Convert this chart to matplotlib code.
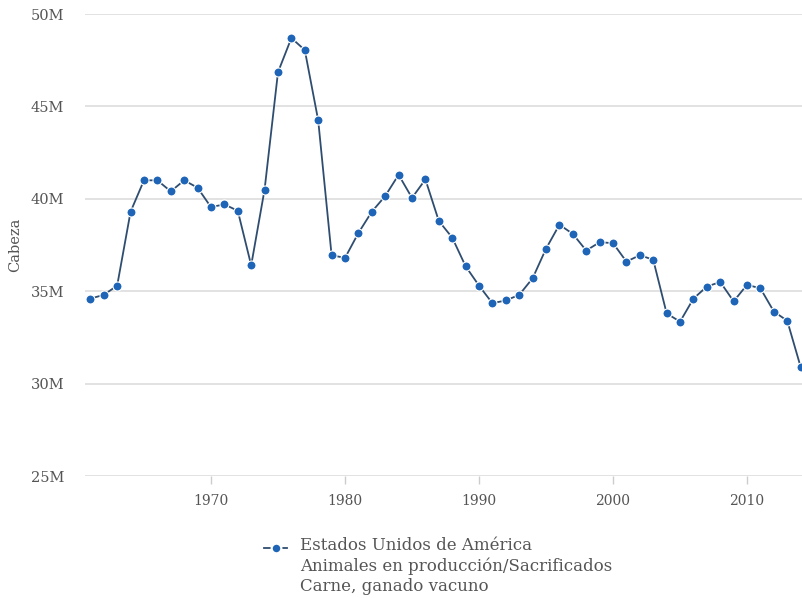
import numpy as np
import matplotlib.pyplot as plt
from matplotlib.lines import Line2D
from matplotlib.ticker import FuncFormatter

years = list(range(1961, 2015))
head_m = [34.6, 34.8, 35.3, 39.3, 41.0, 41.0, 40.4, 41.0, 40.6, 39.55,
          39.7, 39.35, 36.4, 40.5, 46.85, 48.7, 48.05, 44.25, 36.95, 36.8,
          38.15, 39.3, 40.15, 41.3, 40.05, 41.05, 38.8, 37.9, 36.35, 35.3,
          34.35, 34.5, 34.8, 35.7, 37.3, 38.6, 38.1, 37.2, 37.65, 37.6,
          36.6, 36.95, 36.7, 33.8, 33.35, 34.6, 35.25, 35.5, 34.45, 35.35,
          35.15, 33.9, 33.4, 30.9]
y_ticks = [25, 30, 35, 40, 45, 50]
x_ticks = [1970, 1980, 1990, 2000, 2010]
legend_lines = ["Estados Unidos de América",
                "Animales en producción/Sacrificados",
                "Carne, ganado vacuno"]

text_col = '#555555'
grid_col = '#dddddd'
line_col = '#2f4d70'
dot_col = '#1f65b7'

plt.rcParams['font.family'] = ['DejaVu Serif']

fig = plt.figure(figsize=(8.02, 5.98), dpi=100)
ax = fig.add_axes([85 / 802, 1 - 476 / 598, 1 - 85 / 802, (476 - 14) / 598])

ax.plot(years, head_m, color=line_col, lw=1.3, marker='o', ms=6.5,
        mfc=dot_col, mec='white', mew=0.8, clip_on=False, zorder=3)

ax.set_xlim(1960.6, 2014.1)
ax.set_ylim(25, 50)
ax.set_yticks(y_ticks)
ax.set_xticks(x_ticks)
ax.yaxis.set_major_formatter(FuncFormatter(lambda v, p: f'{int(v)}M'))
ax.grid(axis='y', color=grid_col, lw=1.2)
ax.set_axisbelow(True)
for s in ax.spines.values():
    s.set_visible(False)
ax.tick_params(axis='y', length=0, pad=15, labelsize=10.5, labelcolor=text_col)
ax.tick_params(axis='x', length=6, width=1, color='#cccccc', pad=7,
               labelsize=10, labelcolor=text_col)
ax.set_ylabel('Cabeza', color=text_col, fontsize=10.5, labelpad=6)

# legend drawn by hand so the key sits on the first line
key_y = 1 - 548 / 598
fig.add_artist(Line2D([264 / 802, 287 / 802], [key_y, key_y],
                      transform=fig.transFigure, color=line_col, lw=1.3))
fig.add_artist(Line2D([275.5 / 802], [key_y], transform=fig.transFigure,
                      marker='o', ms=7, mfc=dot_col, mec='white', mew=1.6))
fig.text(300 / 802, 1 - 537 / 598, '\n'.join(legend_lines), fontsize=12,
         color=text_col, va='top', ha='left', linespacing=1.25)

fig.savefig('out.png', dpi=100)
